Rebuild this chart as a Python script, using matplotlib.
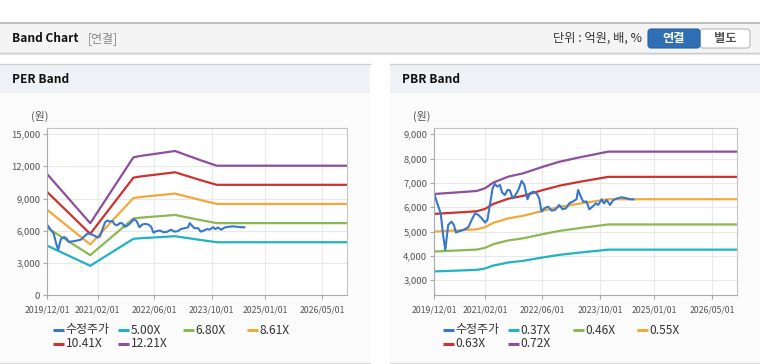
import numpy as np
import pandas as pd
import matplotlib
matplotlib.use('Agg')
import matplotlib.pyplot as plt
from matplotlib.patches import Rectangle, FancyBboxPatch

plt.rcParams['font.family'] = ['Noto Sans CJK KR', 'DejaVu Sans']

# 수정주가 (adjusted price)
price_dates = ['2019-12-01', '2019-12-26', '2020-01-24', '2020-02-15', '2020-03-03',
               '2020-03-27', '2020-04-25', '2020-05-14', '2020-06-01', '2020-06-20',
               '2020-08-02', '2020-09-13', '2020-10-11', '2020-11-09', '2020-12-07',
               '2021-01-04', '2021-02-02', '2021-02-21', '2021-03-14', '2021-04-06',
               '2021-04-25', '2021-05-15', '2021-06-07', '2021-06-26', '2021-07-18',
               '2021-08-10', '2021-08-30', '2021-09-22', '2021-10-11', '2021-11-09',
               '2021-12-07', '2021-12-30', '2022-01-25', '2022-02-16', '2022-03-14',
               '2022-04-12', '2022-05-04', '2022-05-24', '2022-06-16', '2022-07-19',
               '2022-08-17', '2022-09-14', '2022-10-20', '2022-11-18', '2022-12-16',
               '2023-01-14', '2023-02-11', '2023-03-15', '2023-03-29', '2023-04-18',
               '2023-05-10', '2023-06-08', '2023-07-01', '2023-07-28', '2023-08-26',
               '2023-09-15', '2023-10-13', '2023-11-02', '2023-11-25', '2023-12-23',
               '2024-01-20', '2024-02-23', '2024-03-29', '2024-05-11', '2024-06-08',
               '2024-07-06']
price = [6548, 6164, 5753, 4795, 4247, 5274, 5411, 5274, 4959, 5000,
         5068, 5178, 5479, 5753, 5685, 5548, 5370, 5480, 6096, 6781,
         6959, 6849, 6918, 6603, 6507, 6712, 6700, 6370, 6466, 6712,
         7082, 6918, 6329, 6575, 6644, 6575, 6370, 5822, 5959, 6027,
         5863, 5890, 6096, 5918, 5960, 6164, 6233, 6329, 6712, 6466,
         6233, 6240, 5918, 6027, 6164, 6100, 6329, 6160, 6300, 6096,
         6301, 6370, 6411, 6370, 6330, 6329]

# PER band: EPS by date and the multiples
per_dates = ['2019-12-01', '2020-12-01', '2021-12-04', '2022-01-30', '2022-11-24',
             '2023-07-08', '2023-11-14', '2026-12-01']
eps = [922, 549, 1051, 1061, 1099, 1026, 987, 987]
per_mult = [5.00, 6.80, 8.61, 10.41, 12.21]

# PBR band: BPS by date and the multiples
pbr_dates = ['2019-12-01', '2020-08-01', '2020-11-23', '2021-02-01', '2021-04-11',
             '2021-08-16', '2021-12-21', '2022-06-07', '2022-10-26', '2023-04-12',
             '2023-09-28', '2023-12-08', '2026-12-01']
bps = [9094, 9208, 9265, 9418, 9742, 10083, 10274, 10654, 10940, 11188,
       11415, 11511, 11511]
pbr_mult = [0.37, 0.46, 0.55, 0.63, 0.72]

x_ticks = ['2019-12-01', '2021-02-01', '2022-06-01', '2023-10-01', '2025-01-01', '2026-05-01']
x_end = '2026-12-01'

price_color = '#3677c9'
band_colors = ['#20b3c2', '#8cb852', '#f2a83a', '#cc3330', '#8d4f9c']

W, H = 760, 364
fig = plt.figure(figsize=(7.6, 3.64), dpi=100)
bg = fig.add_axes([0, 0, 1, 1])
bg.set_xlim(0, W)
bg.set_ylim(H, 0)
bg.axis('off')

# top header
bg.add_patch(Rectangle((0, 22.5), W, 30.5, fc='#f4f4f4', ec='none'))
bg.plot([0, W], [22.5, 22.5], color='#b4b4b4', lw=1.2)
bg.plot([0, W], [53.2, 53.2], color='#c4c4c4', lw=1.0)
bg.plot([0, W], [54.4, 54.4], color='#e6e6e6', lw=1.0)
bg.text(12, 38.5, 'Band Chart', fontsize=8.6, fontweight='bold', color='#111',
        va='center', ha='left')
bg.text(88, 38.5, '[연결]', fontsize=8.6, color='#888', va='center', ha='left')
bg.text(642, 38.5, '단위 : 억원, 배, %', fontsize=8.8, color='#333', va='center', ha='right')
bg.add_patch(FancyBboxPatch((700, 29), 50, 19, boxstyle='round,pad=0,rounding_size=3',
                            fc='white', ec='#b8b8b8', lw=0.8))
bg.add_patch(FancyBboxPatch((648, 29), 52, 19, boxstyle='round,pad=0,rounding_size=3',
                            fc='#2f6fb6', ec='#2a62a3', lw=0.8))
bg.text(674, 38.5, '연결', fontsize=8.8, fontweight='bold', color='white', va='center', ha='center')
bg.text(725, 38.5, '별도', fontsize=8.8, fontweight='bold', color='#555', va='center', ha='center')


def draw_panel(x0, x1, title):
    bg.add_patch(Rectangle((x0, 64), x1 - x0, 29, fc='#eef2f7', ec='none'))
    bg.add_patch(Rectangle((x0, 93), x1 - x0, 269, fc='#fbfbfb', ec='none'))
    bg.plot([x0, x1], [64, 64], color='#d0d0d0', lw=1.0)
    bg.plot([x0, x1], [362.5, 362.5], color='#d8d8d8', lw=1.0)
    bg.text(x0 + 12, 79.5, title, fontsize=8.6, fontweight='bold', color='#111',
            va='center', ha='left')


draw_panel(0, 370, 'PER Band')
draw_panel(390, 760, 'PBR Band')


def draw_chart(rect, dates, base, mults, ylim, yticks, unit_x):
    ax = fig.add_axes(rect)
    ax.set_facecolor('white')
    d = pd.to_datetime(dates)
    for m, c in zip(mults, band_colors):
        ax.plot(d, np.array(base) * m, color=c, lw=1.6, solid_capstyle='butt')
    ax.plot(pd.to_datetime(price_dates), price, color=price_color, lw=1.5)
    ax.set_xlim(pd.Timestamp(x_ticks[0]), pd.Timestamp(x_end))
    ax.set_ylim(*ylim)
    ax.set_yticks(yticks)
    ax.set_yticklabels([f'{v:,}' for v in yticks], fontsize=6.8)
    ax.set_xticks(pd.to_datetime(x_ticks))
    ax.set_xticklabels([t.replace('-', '/') for t in x_ticks], fontsize=6.3)
    ax.grid(True, color='#e8e8e8', lw=0.8)
    ax.set_axisbelow(True)
    for s in ['left', 'bottom']:
        ax.spines[s].set_color('#aaaaaa')
    for s in ['top', 'right']:
        ax.spines[s].set_color('#c4c4c4')
    ax.tick_params(direction='out', length=3, width=0.8, color='#aaaaaa',
                   labelcolor='#555555', pad=2)
    ax.tick_params(axis='x', pad=4)
    bg.text(unit_x, 116.5, '(원)', fontsize=7.8, color='#555', va='center', ha='center')
    return ax


draw_chart([47.3 / W, (H - 295.3) / H, 300 / W, 167 / H], per_dates, eps, per_mult,
           (0, 15530), [0, 3000, 6000, 9000, 12000, 15000], 40)
draw_chart([434.3 / W, (H - 295.3) / H, 303 / W, 167 / H], pbr_dates, bps, pbr_mult,
           (2383, 9247), [3000, 4000, 5000, 6000, 7000, 8000, 9000], 422)


def draw_legend(x_cols, mults):
    labels = ['수정주가'] + [f'{m:.2f}X' for m in mults]
    colors = [price_color] + band_colors
    for i, (lab, c) in enumerate(zip(labels, colors)):
        x = x_cols[i % 4]
        y = 330 if i < 4 else 343.5
        bg.plot([x, x + 10.5], [y, y], color=c, lw=2.2, solid_capstyle='butt')
        bg.text(x + 12.5, y, lab, fontsize=8.6, color='#333', va='center', ha='left')


draw_legend([53, 118, 183, 247], per_mult)
draw_legend([443, 508, 573, 637], pbr_mult)

fig.savefig('out.png', dpi=100)
